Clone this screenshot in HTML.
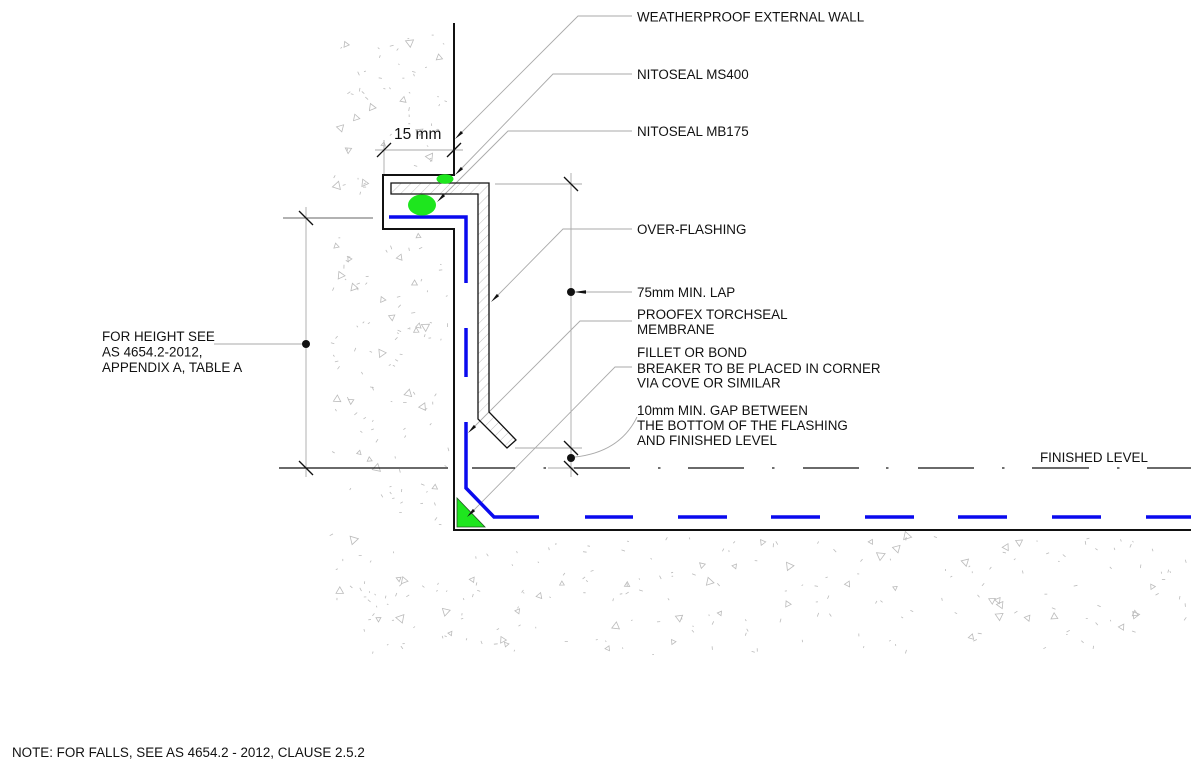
<!DOCTYPE html>
<html><head><meta charset="utf-8">
<style>
html,body{margin:0;padding:0;background:#fff;overflow:hidden;}
svg{display:block;}
text{font-family:"Liberation Sans",Arial,sans-serif;font-size:13.4px;fill:#111;}
</style></head><body>
<svg id="s" width="1191" height="768" viewBox="0 0 1191 768" xmlns="http://www.w3.org/2000/svg">
<defs>
<pattern id="hatch" patternUnits="userSpaceOnUse" width="7" height="7" patternTransform="rotate(45)">
<line x1="0" y1="0" x2="0" y2="7" stroke="#b0b0b0" stroke-width="0.8"/>
</pattern>
</defs>
<rect width="1191" height="768" fill="#fff"/>
<g id="tex" stroke="#bbb" fill="none" stroke-width="0.8"></g>

<!-- dimension / extension lines (gray) -->
<g stroke="#aaa" stroke-width="0.9" fill="none">
<line x1="375" y1="150" x2="463" y2="150"/>
<line x1="384" y1="140" x2="384" y2="175"/>
<line x1="306" y1="207" x2="306" y2="477"/>
<line x1="214" y1="344" x2="306" y2="344"/>
<line x1="571" y1="173" x2="571" y2="477"/>
<line x1="495" y1="184" x2="582" y2="184"/>
<line x1="515" y1="448" x2="582" y2="448"/>
<line x1="548" y1="468" x2="582" y2="468"/>
</g>
<line x1="283" y1="218" x2="373" y2="218" stroke="#666" stroke-width="1.1"/>

<!-- leaders -->
<g stroke="#aaa" stroke-width="0.9" fill="none">
<path d="M632,16 H578 L462,132"/>
<path d="M632,74 H553 L462,168"/>
<path d="M632,131 H508 L444,195"/>
<path d="M632,229 H563 L498,295"/>
<path d="M632,292 H585"/>
<path d="M632,321 H580 L475,426"/>
<path d="M632,367 H615 L474,510"/>
<path d="M575,457 Q620,452 637,417"/>
</g>

<!-- finished level line -->
<g stroke="#111" stroke-width="1.2" fill="none">
<line x1="279" y1="468" x2="448" y2="468"/>
<line x1="472" y1="468" x2="515" y2="468"/>
<line x1="543.5" y1="468" x2="546" y2="468"/>
<line x1="574" y1="468" x2="630" y2="468"/>
<line x1="658" y1="468" x2="660.5" y2="468"/>
<line x1="688" y1="468" x2="744" y2="468"/>
<line x1="772" y1="468" x2="774.5" y2="468"/>
<line x1="803" y1="468" x2="859" y2="468"/>
<line x1="886" y1="468" x2="888.5" y2="468"/>
<line x1="918" y1="468" x2="974" y2="468"/>
<line x1="1002" y1="468" x2="1004.5" y2="468"/>
<line x1="1032" y1="468" x2="1089" y2="468"/>
<line x1="1117" y1="468" x2="1119.5" y2="468"/>
<line x1="1147" y1="468" x2="1191" y2="468"/>
</g>

<!-- flashing -->
<polygon points="391,183 489,183 489,412 516,440 507,448 478,419 478,194 391,194" fill="url(#hatch)" stroke="#111" stroke-width="1.3"/>

<!-- concrete outline + wall -->
<polyline points="454,23 454,175 383,175 383,229 454,229 454,530 1191,530" fill="none" stroke="#111" stroke-width="2"/>

<!-- membrane -->
<g stroke="#0a0aee" stroke-width="3.5" fill="none" stroke-linejoin="miter">
<path d="M389,217 H466 V283"/>
<path d="M466,328 V377"/>
<path d="M466,422 V488 L494,517 H539"/>
<path d="M585,517 H633 M678,517 H727 M771,517 H820 M865,517 H914 M958,517 H1007 M1052,517 H1101 M1146,517 H1191"/>
</g>

<!-- green sealants -->
<ellipse cx="445" cy="179" rx="8.5" ry="4.7" fill="#1ee61e"/>
<ellipse cx="422" cy="205" rx="14" ry="10.5" fill="#1ee61e"/>
<polygon points="457,498 457,527 485,527" fill="#1ee61e" stroke="#225522" stroke-width="0.8"/>

<!-- ticks -->
<g stroke="#111" stroke-width="1.3">
<line x1="377" y1="157" x2="391" y2="143"/>
<line x1="447" y1="157" x2="461" y2="143"/>
<line x1="564" y1="177" x2="578" y2="191"/>
<line x1="564" y1="441" x2="578" y2="455"/>
<line x1="564" y1="461" x2="578" y2="475"/>
<line x1="299" y1="211" x2="313" y2="225"/>
<line x1="299" y1="461" x2="313" y2="475"/>
</g>

<!-- arrows -->
<g fill="#111">
<polygon points="455,139 463.1,133.1 460.9,130.9"/>
<polygon points="455,175 463.1,169.1 460.9,166.9"/>
<polygon points="437,202 445.1,196.1 442.9,193.9"/>
<polygon points="491,302 499.1,296.1 496.9,293.9"/>
<polygon points="468,433 476.1,427.1 473.9,424.9"/>
<polygon points="467,517 475.1,511.1 472.9,508.9"/>
<polygon points="574,292 586,290.3 586,293.7"/>
<circle cx="306" cy="344" r="4"/>
<circle cx="571" cy="292" r="4"/>
<circle cx="571" cy="458" r="4"/>
</g>

<!-- text -->
<text x="394" y="139" style="font-size:15.5px">15 mm</text>
<text x="637" y="21.5">WEATHERPROOF EXTERNAL WALL</text>
<text x="637" y="79">NITOSEAL MS400</text>
<text x="637" y="136">NITOSEAL MB175</text>
<text x="637" y="234">OVER-FLASHING</text>
<text x="637" y="297">75mm MIN. LAP</text>
<text x="637" y="319">PROOFEX TORCHSEAL</text>
<text x="637" y="334">MEMBRANE</text>
<text x="637" y="357">FILLET OR BOND</text>
<text x="637" y="373">BREAKER TO BE PLACED IN CORNER</text>
<text x="637" y="387.5">VIA COVE OR SIMILAR</text>
<text x="637" y="415">10mm MIN. GAP BETWEEN</text>
<text x="637" y="430">THE BOTTOM OF THE FLASHING</text>
<text x="637" y="445">AND FINISHED LEVEL</text>
<text x="1040" y="462">FINISHED LEVEL</text>
<text x="102" y="341">FOR HEIGHT SEE</text>
<text x="102" y="356.5">AS 4654.2-2012,</text>
<text x="102" y="372">APPENDIX A, TABLE A</text>
<text x="12" y="757">NOTE: FOR FALLS, SEE AS 4654.2 - 2012, CLAUSE 2.5.2</text>
</svg>
<script>
(function(){
var seed=987654;
function r(){seed=(seed*1103515245+12345)%2147483648;return seed/2147483648;}
var g=document.getElementById('tex'),ns='http://www.w3.org/2000/svg';
function excluded(x,y){
  if(x>379&&x<458&&y>170&&y<233)return true;
  if(x>449&&x<459&&y<535)return true;
  if(y>525&&y<536&&x>449)return true;
  return false;
}
function tri(x,y){
  var s=2.5+r()*2.5,a=r()*6.283,p=[];
  for(var i=0;i<3;i++){var t=a+i*2.094;p.push((x+s*Math.cos(t)).toFixed(1)+','+(y+s*Math.sin(t)).toFixed(1));}
  var e=document.createElementNS(ns,'polygon');e.setAttribute('points',p.join(' '));g.appendChild(e);
}
function dash(x,y){
  var l=1.5+r()*2.5,a=r()*6.283;
  var e=document.createElementNS(ns,'line');
  e.setAttribute('x1',x.toFixed(1));e.setAttribute('y1',y.toFixed(1));
  e.setAttribute('x2',(x+l*Math.cos(a)).toFixed(1));e.setAttribute('y2',(y+l*Math.sin(a)).toFixed(1));
  g.appendChild(e);
}
function fill(x0,x1,y0,y1,nt,nd){
  var c=0,x,y;
  while(c<nt){x=x0+r()*(x1-x0);y=y0+r()*(y1-y0);if(excluded(x,y))continue;tri(x,y);c++;}
  c=0;
  while(c<nd){x=x0+r()*(x1-x0);y=y0+r()*(y1-y0);if(excluded(x,y))continue;dash(x,y);c++;}
}
fill(332,450,35,530,34,130);
fill(332,454,530,655,8,35);
fill(460,1191,536,655,38,150);
})();
</script>
</body></html>
